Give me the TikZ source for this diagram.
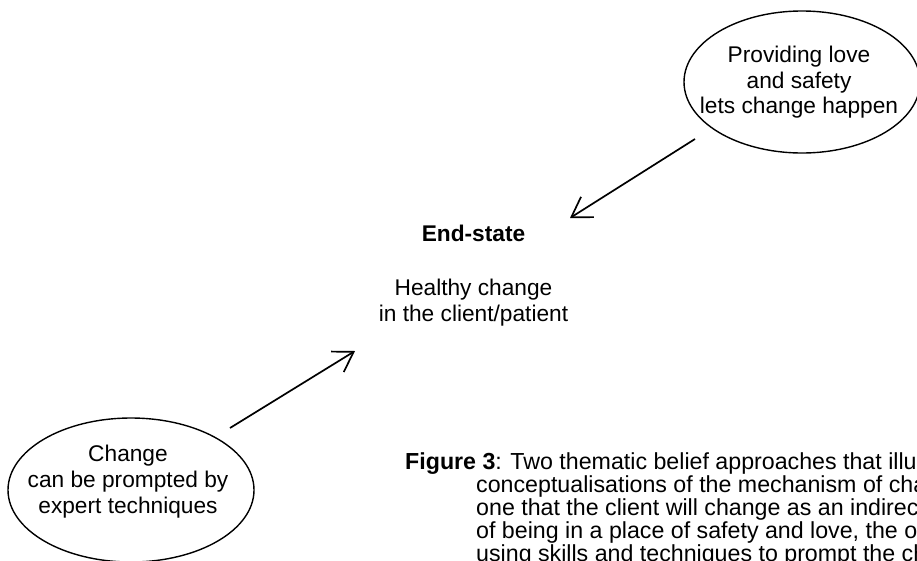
\documentclass[tikz,border=0pt]{standalone}
\usepackage{fontspec}
\setmainfont{Liberation Sans}
\usetikzlibrary{shapes.geometric,arrows.meta}
\begin{document}
\begin{tikzpicture}[x=1pt,y=-1pt,
  bubble/.style={ellipse,draw,line width=1.4pt,inner sep=0pt},
  body/.style={font=\fontsize{22.7}{26}\selectfont,anchor=base,inner sep=0pt},
  headline/.style={body,font=\fontsize{22.7}{26}\selectfont\bfseries},
  arrow/.style={line width=1.7pt,-{Straight Barb[length=19pt,width=24pt,line width=1.7pt]}},
  caption/.style={font=\fontsize{23.2}{23}\selectfont,anchor=base west,inner sep=0pt}]
\useasboundingbox (0,0) rectangle (917,560);
\clip (0,0) rectangle (917,560);

% belief bubbles
\node[bubble,minimum width=236pt,minimum height=142pt] (love) at (802,82) {};
\node[body] (loveA) at (799,62) {Providing love};
\node[body] (loveB) at (799,88) {and safety};
\node[body] (loveC) at (799,113.5) {lets change happen};

\node[bubble,minimum width=246pt,minimum height=144pt] (expert) at (131,490) {};
\node[body] (expA) at (128,461) {Change};
\node[body] (expB) at (128,487) {can be prompted by};
\node[body] (expC) at (128,513) {expert techniques};

% end-state
\node[headline] (end) at (473.5,241) {End-state};
\node[body] (endA) at (473.5,295) {Healthy change};
\node[body] (endB) at (473.5,321) {in the client/patient};

% connectors
\coordinate (loveOut) at (695,139);
\coordinate (loveIn) at (570,218);
\coordinate (expOut) at (230,428);
\coordinate (expIn) at (355,351);
\draw[arrow] (loveOut) -- (loveIn);
\draw[arrow] (expOut) -- (expIn);

% caption, running past the right edge
\node[caption] (capA) at (405,469) {\textbf{Figure 3}: Two thematic belief approaches that illuminate};
\node[caption] (capB) at (476,492) {conceptualisations of the mechanism of change:};
\node[caption] (capC) at (476,515) {one that the client will change as an indirect result};
\node[caption] (capD) at (476,538) {of being in a place of safety and love, the other};
\node[caption] (capE) at (476,561) {using skills and techniques to prompt the change.};
\end{tikzpicture}
\end{document}
